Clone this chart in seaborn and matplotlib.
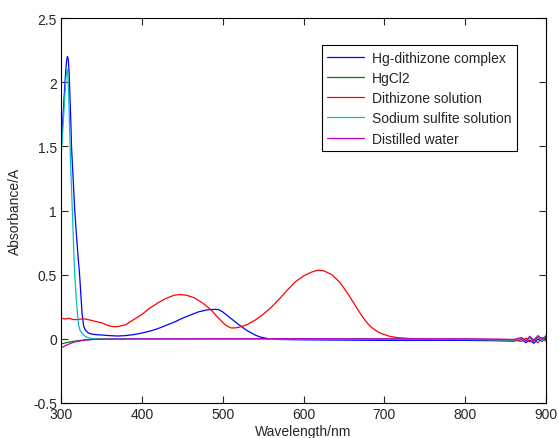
import matplotlib
matplotlib.use('Agg')
import matplotlib.pyplot as plt
import seaborn as sns
from matplotlib.ticker import FormatStrFormatter, MultipleLocator

sns.set_style("ticks", {"xtick.direction": "in", "ytick.direction": "in"})
plt.rcParams['font.family'] = ['Liberation Sans', 'DejaVu Sans']
plt.rcParams['font.size'] = 10

# Hg-dithizone complex
wl_hg = [300, 302, 304, 306, 307, 308, 309, 310, 311, 312, 313, 315, 317, 319, 321, 323, 325, 326,
         328, 330, 333, 336, 340, 345, 350, 360, 370, 380, 390, 400, 410, 420, 430, 440, 450, 460,
         470, 480, 490, 495, 500, 510, 520, 530, 540, 546, 555, 570, 600, 650, 700, 750, 800, 840,
         860, 870, 875, 880, 885, 890, 895, 900]
abs_hg = [1.48, 1.68, 1.9, 2.1, 2.17, 2.2, 2.18, 2.08, 1.9, 1.72, 1.5, 1.25, 1.0, 0.82, 0.65, 0.5,
          0.3, 0.2, 0.1, 0.07, 0.05, 0.04, 0.035, 0.032, 0.03, 0.025, 0.022, 0.025, 0.033, 0.045,
          0.06, 0.08, 0.105, 0.13, 0.16, 0.185, 0.21, 0.225, 0.23, 0.228, 0.21, 0.16, 0.11, 0.065,
          0.03, 0.015, 0.003, -0.005, -0.008, -0.01, -0.012, -0.012, -0.012, -0.015, -0.018,
          -0.005, -0.03, -0.01, -0.035, 0.0, -0.02, 0.01]

# HgCl2
wl_hgcl = [300, 310, 320, 330, 340, 360, 400, 500, 600, 700, 800, 840, 860, 870, 875, 880, 885,
           890, 895, 900]
abs_hgcl = [-0.04, -0.025, -0.015, -0.008, -0.004, -0.002, 0.0, 0.0, 0.0, -0.002, -0.004, -0.006,
            -0.01, 0.005, -0.015, 0.01, -0.02, 0.015, -0.01, 0.005]

# Dithizone solution
wl_dz = [300, 305, 310, 315, 320, 325, 330, 340, 350, 360, 365, 370, 380, 390, 400, 410, 420, 430,
         440, 447, 455, 465, 475, 485, 495, 503, 510, 515, 520, 530, 540, 550, 560, 570, 580, 590,
         600, 610, 618, 625, 635, 645, 655, 665, 670, 675, 680, 685, 690, 695, 705, 715, 730, 750,
         800, 840, 860, 870, 875, 880, 885, 890, 895, 900]
abs_dz = [0.16, 0.155, 0.16, 0.15, 0.15, 0.155, 0.155, 0.14, 0.125, 0.1, 0.095, 0.095, 0.11, 0.15,
          0.19, 0.24, 0.28, 0.315, 0.34, 0.345, 0.34, 0.32, 0.28, 0.23, 0.16, 0.11, 0.085, 0.085,
          0.09, 0.11, 0.145, 0.19, 0.245, 0.31, 0.38, 0.445, 0.49, 0.52, 0.535, 0.53, 0.5, 0.44,
          0.35, 0.25, 0.2, 0.155, 0.115, 0.085, 0.062, 0.045, 0.022, 0.01, 0.003, 0.0, -0.003,
          -0.008, -0.01, -0.02, 0.005, -0.025, -0.01, -0.03, 0.01, -0.02]

# Sodium sulfite solution
wl_ss = [300, 302, 304, 306, 307, 308, 309, 310, 311, 312, 314, 316, 317, 319, 321, 322, 324, 326,
         328, 330, 333, 336, 340, 350, 400, 500, 600, 700, 800, 840, 860, 870, 875, 880, 885, 890,
         895, 900]
abs_ss = [1.4, 1.6, 1.82, 2.02, 2.08, 2.1, 2.0, 1.8, 1.55, 1.35, 1.0, 0.65, 0.5, 0.3, 0.15, 0.1,
          0.06, 0.045, 0.03, 0.02, 0.01, 0.005, 0.0, 0.0, 0.0, 0.0, -0.002, -0.003, -0.005, -0.008,
          -0.01, 0.0, -0.02, 0.015, -0.01, 0.02, -0.015, 0.03]

# Distilled water
wl_dw = [300, 305, 310, 315, 320, 330, 340, 360, 400, 500, 600, 700, 800, 840, 860, 870, 875, 880,
         885, 890, 895, 900]
abs_dw = [-0.07, -0.055, -0.04, -0.028, -0.02, -0.01, -0.005, -0.002, 0.0, 0.001, 0.001, 0.0, 0.0,
          -0.002, -0.005, 0.01, -0.015, 0.02, -0.01, 0.025, 0.0, 0.02]

series = [
    ("Hg-dithizone complex", wl_hg, abs_hg, "#0000ff"),
    ("HgCl2", wl_hgcl, abs_hgcl, "#008000"),
    ("Dithizone solution", wl_dz, abs_dz, "#ff0000"),
    ("Sodium sulfite solution", wl_ss, abs_ss, "#00bfbf"),
    ("Distilled water", wl_dw, abs_dw, "#bf00bf"),
]

fig = plt.figure(figsize=(5.58, 4.39), dpi=100)
ax = fig.add_axes([61 / 558, 1 - 404 / 439, 485 / 558, 385 / 439])

for name, wl, ab, col in series:
    sns.lineplot(x=wl, y=ab, ax=ax, color=col, label=name, linewidth=0.9,
                 estimator=None, sort=False)

ax.set_xlim(300, 900)
ax.set_ylim(-0.5, 2.5)
ax.xaxis.set_major_locator(MultipleLocator(100))
ax.yaxis.set_major_locator(MultipleLocator(0.5))
ax.yaxis.set_major_formatter(FormatStrFormatter('%g'))
ax.tick_params(top=True, right=True, direction='in', length=5, width=0.8, labelsize=10, pad=3)
for sp in ax.spines.values():
    sp.set_visible(True)
    sp.set_color('black')
    sp.set_linewidth(0.8)
ax.set_xlabel("Wavelength/nm", fontsize=10, labelpad=2)
ax.set_ylabel("Absorbance/A", fontsize=10, labelpad=8)

leg = ax.legend(loc='upper right', bbox_to_anchor=(0.940, 0.930), borderaxespad=0,
                fancybox=False, framealpha=1, edgecolor='black', fontsize=10,
                handlelength=2.6, handletextpad=0.6, labelspacing=0.45, borderpad=0.4)
leg.get_frame().set_linewidth(0.8)

fig.savefig("out.png", dpi=100)
